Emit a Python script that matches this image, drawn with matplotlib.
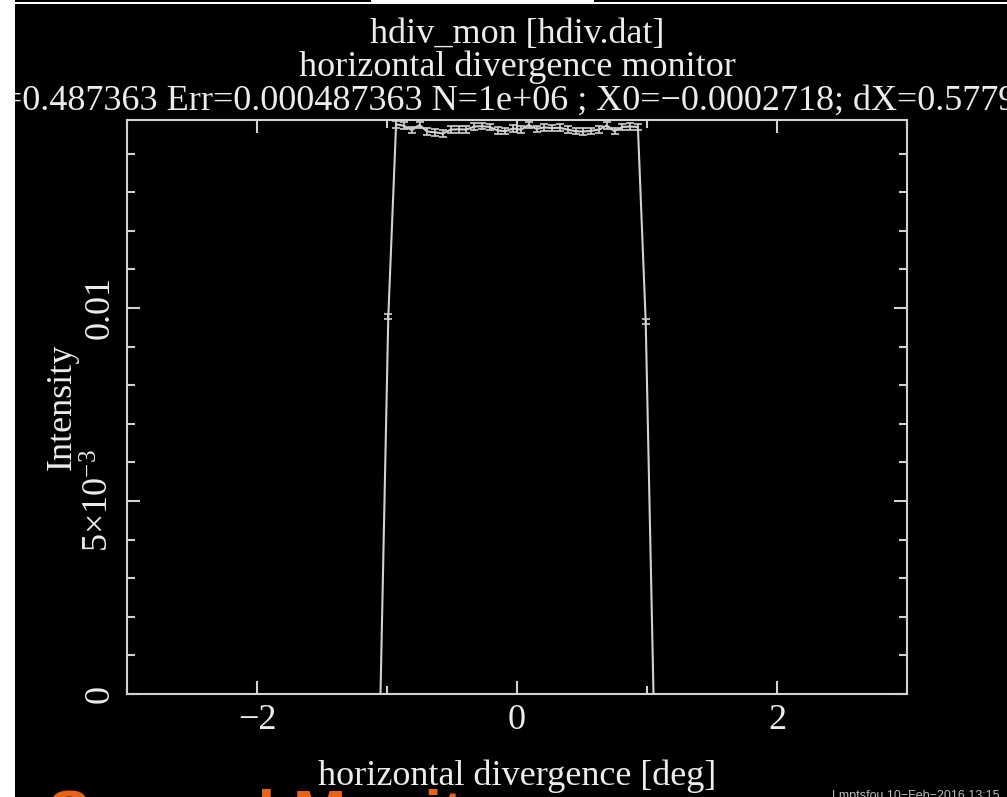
import matplotlib
matplotlib.use("Agg")
import matplotlib.pyplot as plt
from matplotlib.ticker import FixedLocator, FixedFormatter, MultipleLocator
from matplotlib.patches import Rectangle

# horizontal divergence monitor: bin centres [deg], intensity and error
hdiv = [-1.05, -0.99, -0.93, -0.87, -0.81, -0.75, -0.69, -0.63, -0.57, -0.51,
        -0.45, -0.39, -0.33, -0.27, -0.21, -0.15, -0.09, -0.03, 0.03, 0.09,
        0.15, 0.21, 0.27, 0.33, 0.39, 0.45, 0.51, 0.57, 0.63, 0.69,
        0.75, 0.81, 0.87, 0.93, 0.99, 1.05]
intensity = [0.0, 0.009775,
             0.01476, 0.01472, 0.01461, 0.01474, 0.01457, 0.01455, 0.01452, 0.01462,
             0.01463, 0.01462, 0.01470, 0.01471, 0.01469, 0.01460, 0.01458, 0.01465,
             0.01462, 0.01474, 0.01464, 0.01468, 0.01466, 0.01467, 0.01462, 0.01458,
             0.01457, 0.01459, 0.01462, 0.01473, 0.01458, 0.01469, 0.01470, 0.01469,
             0.009645, 0.0]
errors = [0.0, 0.000070,
          0.000085, 0.000086, 0.000084, 0.000086, 0.000085, 0.000084, 0.000084, 0.000085,
          0.000085, 0.000085, 0.000086, 0.000086, 0.000085, 0.000085, 0.000084, 0.000085,
          0.000085, 0.000086, 0.000085, 0.000085, 0.000085, 0.000085, 0.000085, 0.000084,
          0.000084, 0.000085, 0.000085, 0.000086, 0.000084, 0.000085, 0.000086, 0.000085,
          0.000070, 0.0]

title = "hdiv_mon [hdiv.dat]"
subtitle = "horizontal divergence monitor"
stats = "I=0.487363 Err=0.000487363 N=1e+06 ; X0=\u22120.0002718; dX=0.57791"
xlabel = "horizontal divergence [deg]"
ylabel = "Intensity"
ytick_vals = [0.0, 0.005, 0.01]
ytick_text = ["0", r"5$\times$10$^{\mathregular{-3}}$", "0.01"]

W, H = 1007, 797
FG = "#d2d2d2"
TXT = "#ececec"

plt.rcParams["font.family"] = ["Liberation Serif", "DejaVu Serif"]
plt.rcParams["mathtext.fontset"] = "custom"
plt.rcParams["mathtext.rm"] = "Liberation Serif"
plt.rcParams["mathtext.default"] = "regular"

fig = plt.figure(figsize=(W / 100, H / 100), dpi=100, facecolor="black")
ax = fig.add_axes([127 / W, 1 - 694 / H, 780 / W, 574 / H], facecolor="black")

# histogram curve plus error bars on the filled bins
ax.plot(hdiv, intensity, color=FG, lw=1.5, zorder=3)
xs = [x for x, y in zip(hdiv, intensity) if y > 0]
ys = [y for y in intensity if y > 0]
es = [e for e, y in zip(errors, intensity) if y > 0]
ax.errorbar(xs, ys, yerr=es, fmt="none", ecolor=FG, elinewidth=1.2,
            capsize=2.8, capthick=1.2, zorder=4)

ax.set_xlim(-3, 3)
ax.set_ylim(0, 0.01487)

for s in ax.spines.values():
    s.set_color(FG)
    s.set_linewidth(1.5)

ax.xaxis.set_major_locator(MultipleLocator(2))
ax.xaxis.set_minor_locator(MultipleLocator(1))
ax.yaxis.set_major_locator(FixedLocator(ytick_vals))
ax.yaxis.set_major_formatter(FixedFormatter(ytick_text))
ax.yaxis.set_minor_locator(MultipleLocator(0.001))
ax.tick_params(which="both", direction="in", top=True, right=True,
               color=FG, width=1.5, labelcolor=TXT, labelsize=26)
ax.tick_params(which="major", length=9.5)
ax.tick_params(which="minor", length=5.5)
ax.tick_params(axis="x", pad=7)
ax.tick_params(axis="y", pad=19.5)
for lab in ax.get_yticklabels():
    lab.set_rotation(90)
    lab.set_ha("center")
    lab.set_va("center")

fig.text(517 / W, 1 - 43 / H, title, ha="center", va="baseline",
         color=TXT, fontsize=26)
fig.text(517 / W, 1 - 76 / H, subtitle, ha="center", va="baseline",
         color=TXT, fontsize=26)
fig.text(512 / W, 1 - 110 / H, stats, ha="center", va="baseline",
         color=TXT, fontsize=26)
fig.text(517 / W, 1 - 785 / H, xlabel, ha="center", va="baseline",
         color=TXT, fontsize=26)
fig.text(62 / W, 1 - 407 / H, ylabel, ha="center", va="center",
         rotation=90, color=TXT, fontsize=26)

# window borders and footer
fig.patches.append(Rectangle((0, 0), 15 / W, 1, transform=fig.transFigure,
                             facecolor="white", edgecolor="none", zorder=5))
fig.patches.append(Rectangle((0, 1 - 4 / H), 1, 2 / H, transform=fig.transFigure,
                             facecolor="white", edgecolor="none", zorder=5))
fig.patches.append(Rectangle((371 / W, 1 - 4 / H), 223 / W, 4 / H,
                             transform=fig.transFigure,
                             facecolor="white", edgecolor="none", zorder=5))
fig.text(48 / W, 1 - 789 / H, "Several Monitors", ha="left", va="top",
         color="#e4641c", fontsize=46, fontweight="bold",
         family="Liberation Sans")
fig.text(832 / W, 1 - 799 / H, "Lmptsfou 10\u2212Feb\u22122016 13:15",
         ha="left", va="baseline", color="#bbbbbb", fontsize=9,
         family="Liberation Sans")

fig.savefig("out.png", dpi=100, facecolor="black")
